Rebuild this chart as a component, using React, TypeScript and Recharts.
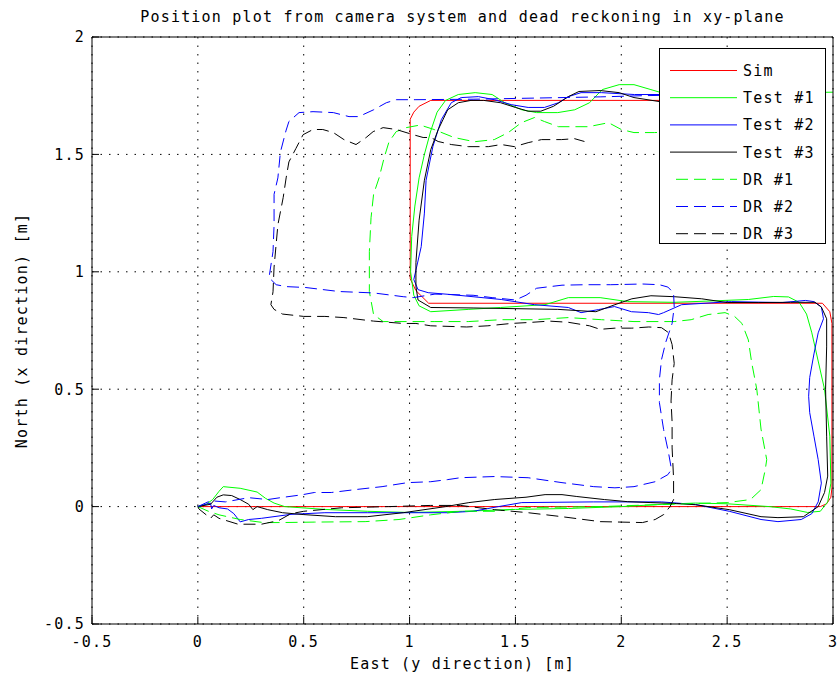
import React from 'react';
import { LineChart, Line, XAxis, YAxis, CartesianGrid, Legend } from 'recharts';

type P = [number, number];

const titleText = 'Position plot from camera system and dead reckoning in xy-plane';
const xLabel = 'East (y direction) [m]';
const yLabel = 'North (x direction) [m]';
const xTicks = [-0.5, 0, 0.5, 1, 1.5, 2, 2.5, 3];
const yTicks = [-0.5, 0, 0.5, 1, 1.5, 2];

const simPath: P[] = [
  [0, 0], [2.94, 0], [2.97, 0.012], [2.99, 0.04], [2.995, 0.08], [2.995, 0.78], [2.985, 0.83],
  [2.95, 0.866], [1.09, 0.866], [1.03, 0.92], [1.003, 0.97], [1.003, 1.65], [1.02, 1.68],
  [1.045, 1.705], [1.1, 1.73], [2.4, 1.73],
];

const test1Path: P[] = [
  [0, 0], [0.04, 0.01], [0.07, 0.03], [0.1, 0.065], [0.12, 0.085], [0.2, 0.078], [0.28, 0.062],
  [0.32, 0.035], [0.36, 0.015], [0.41, 0], [0.6, -0.012], [0.8, -0.02], [1.0, -0.025], [1.25, -0.02],
  [1.5, -0.012], [1.75, -0.008], [2.0, 0.0], [2.2, 0.01], [2.35, 0.015], [2.5, 0.012], [2.7, 0.0],
  [2.8, -0.01], [2.88, -0.025], [2.94, -0.02], [2.975, 0.02], [2.99, 0.1], [2.985, 0.3], [2.96, 0.5],
  [2.93, 0.62], [2.9, 0.74], [2.875, 0.82], [2.84, 0.87], [2.79, 0.893], [2.72, 0.895], [2.6, 0.882],
  [2.4, 0.875], [2.25, 0.87], [2.03, 0.873], [1.9, 0.89], [1.75, 0.89], [1.64, 0.86], [1.43, 0.848],
  [1.28, 0.84], [1.1, 0.83], [1.045, 0.855], [1.02, 0.9], [1.005, 1.0], [1.01, 1.15], [1.025, 1.28],
  [1.045, 1.4], [1.07, 1.5], [1.1, 1.6], [1.13, 1.68], [1.17, 1.73], [1.23, 1.755], [1.31, 1.763],
  [1.39, 1.755], [1.45, 1.72], [1.53, 1.69], [1.6, 1.678], [1.7, 1.678], [1.78, 1.69], [1.85, 1.72],
  [1.91, 1.776], [1.99, 1.797], [2.06, 1.797], [2.14, 1.776], [2.2, 1.76], [2.6, 1.76], [3.0, 1.765],
];

const test2Path: P[] = [
  [0, 0], [0.06, 0.015], [0.065, -0.01], [0.075, 0.005], [0.1, -0.005], [0.14, -0.01], [0.17, -0.03],
  [0.2, -0.065], [0.24, -0.055], [0.3, -0.05], [0.44, -0.033], [0.6, -0.026], [0.8, -0.026],
  [1.0, -0.026], [1.18, -0.026], [1.3, -0.02], [1.42, 0.0], [1.53, 0.017], [1.87, 0.02], [2.19, 0.02],
  [2.35, 0.009], [2.51, -0.02], [2.66, -0.055], [2.74, -0.064], [2.85, -0.055], [2.9, -0.03],
  [2.93, 0.02], [2.945, 0.1], [2.93, 0.2], [2.91, 0.3], [2.89, 0.4], [2.885, 0.47], [2.89, 0.55],
  [2.91, 0.65], [2.93, 0.74], [2.955, 0.8], [2.945, 0.85], [2.91, 0.873], [2.87, 0.878], [2.76, 0.869],
  [2.52, 0.873], [2.285, 0.86], [2.2, 0.826], [2.176, 0.818], [2.128, 0.826], [2.048, 0.83],
  [1.968, 0.852], [1.892, 0.839], [1.81, 0.826], [1.75, 0.848], [1.59, 0.86], [1.433, 0.882],
  [1.197, 0.903], [1.088, 0.911], [1.04, 0.924], [1.02, 0.967], [1.055, 1.107], [1.07, 1.25],
  [1.078, 1.39], [1.11, 1.533], [1.15, 1.648], [1.197, 1.72], [1.244, 1.742], [1.325, 1.746],
  [1.4, 1.733], [1.48, 1.712], [1.56, 1.7], [1.637, 1.7], [1.703, 1.72], [1.75, 1.746], [1.81, 1.763],
  [1.906, 1.763], [2.062, 1.755], [2.19, 1.755], [2.6, 1.76],
];

const test3Path: P[] = [
  [0, 0], [0.06, 0.01], [0.09, 0.04], [0.12, 0.05], [0.16, 0.047], [0.2, 0.03], [0.24, 0.01],
  [0.26, -0.013], [0.28, 0.0], [0.33, -0.013], [0.4, -0.026], [0.5, -0.034], [0.65, -0.043],
  [0.8, -0.043], [0.97, -0.026], [1.17, 0.0], [1.28, 0.017], [1.4, 0.03], [1.55, 0.04], [1.64, 0.051],
  [1.72, 0.051], [1.79, 0.043], [1.92, 0.03], [2.03, 0.021], [2.14, 0.017], [2.26, 0.013],
  [2.35, 0.008], [2.51, -0.013], [2.66, -0.043], [2.74, -0.047], [2.86, -0.043], [2.93, 0.0],
  [2.96, 0.06], [2.975, 0.13], [2.97, 0.3], [2.965, 0.5], [2.97, 0.68], [2.97, 0.8], [2.945, 0.85],
  [2.915, 0.87], [2.8, 0.87], [2.65, 0.869], [2.5, 0.869], [2.38, 0.885], [2.25, 0.894], [2.14, 0.898],
  [2.05, 0.885], [1.97, 0.86], [1.88, 0.83], [1.7, 0.84], [1.3, 0.846], [1.1, 0.848], [1.04, 0.88],
  [1.03, 0.937], [1.03, 1.04], [1.045, 1.22], [1.07, 1.39], [1.1, 1.52], [1.135, 1.605], [1.18, 1.69],
  [1.23, 1.72], [1.29, 1.73], [1.35, 1.73], [1.43, 1.72], [1.5, 1.7], [1.56, 1.684], [1.62, 1.684],
  [1.68, 1.705], [1.75, 1.746], [1.8, 1.768], [1.9, 1.772], [1.99, 1.763], [2.06, 1.742],
  [2.18, 1.725], [2.4, 1.73],
];

const dr1Path: P[] = [
  [0, 0], [0.05, -0.02], [0.1, -0.035], [0.2, -0.055], [0.31, -0.068], [0.39, -0.068], [0.55, -0.066],
  [0.79, -0.064], [0.95, -0.055], [1.1, -0.035], [1.244, -0.02], [1.4, -0.02], [1.56, -0.004],
  [1.9, 0.0], [2.19, 0.009], [2.5, 0.017], [2.61, 0.03], [2.66, 0.072], [2.68, 0.158], [2.687, 0.2],
  [2.66, 0.33], [2.64, 0.5], [2.616, 0.613], [2.6, 0.71], [2.57, 0.78], [2.535, 0.81], [2.49, 0.826],
  [2.41, 0.818], [2.33, 0.796], [2.25, 0.788], [2.06, 0.788], [1.906, 0.796], [1.75, 0.805],
  [1.59, 0.796], [1.433, 0.796], [1.277, 0.788], [1.116, 0.788], [0.875, 0.788], [0.83, 0.818],
  [0.81, 0.916], [0.81, 1.086], [0.818, 1.23], [0.83, 1.33], [0.856, 1.4], [0.88, 1.486],
  [0.903, 1.554], [0.937, 1.597], [0.984, 1.614], [1.05, 1.625], [1.116, 1.606], [1.21, 1.572],
  [1.306, 1.554], [1.4, 1.563], [1.466, 1.593], [1.528, 1.635], [1.59, 1.657], [1.637, 1.64],
  [1.703, 1.618], [1.779, 1.618], [1.845, 1.618], [1.94, 1.635], [2.0, 1.606], [2.06, 1.593],
  [2.157, 1.593], [2.4, 1.6],
];

const dr2Path: P[] = [
  [0, 0], [0.06, 0.025], [0.13, 0.02], [0.24, 0.038], [0.33, 0.03], [0.39, 0.038], [0.49, 0.05],
  [0.55, 0.06], [0.63, 0.06], [0.74, 0.072], [0.87, 0.085], [0.99, 0.102], [1.1, 0.106], [1.18, 0.115],
  [1.24, 0.123], [1.4, 0.128], [1.56, 0.123], [1.72, 0.102], [1.87, 0.085], [1.97, 0.08], [2.06, 0.085],
  [2.16, 0.106], [2.22, 0.136], [2.237, 0.158], [2.223, 0.23], [2.2, 0.328], [2.18, 0.443],
  [2.18, 0.54], [2.19, 0.626], [2.21, 0.7], [2.24, 0.78], [2.25, 0.85], [2.247, 0.91], [2.22, 0.935],
  [2.18, 0.945], [2.1, 0.948], [1.95, 0.945], [1.83, 0.945], [1.72, 0.943], [1.6, 0.93], [1.55, 0.9],
  [1.5, 0.88], [1.39, 0.89], [1.3, 0.9], [1.12, 0.905], [1.017, 0.89], [0.97, 0.894], [0.83, 0.91],
  [0.667, 0.916], [0.51, 0.933], [0.416, 0.937], [0.37, 0.945], [0.336, 0.975], [0.355, 1.086],
  [0.36, 1.2], [0.36, 1.33], [0.378, 1.4], [0.39, 1.51], [0.416, 1.6], [0.43, 1.64], [0.478, 1.678],
  [0.544, 1.682], [0.64, 1.678], [0.714, 1.661], [0.76, 1.661], [0.83, 1.69], [0.89, 1.72],
  [0.937, 1.733], [1.03, 1.733], [1.3, 1.735], [1.6, 1.74], [1.9, 1.745], [2.1, 1.75], [2.4, 1.755],
];

const dr3Path: P[] = [
  [0, 0], [0.005, -0.01], [0.06, -0.05], [0.075, -0.035], [0.1, -0.05], [0.19, -0.075], [0.3, -0.075],
  [0.38, -0.06], [0.44, -0.03], [0.5, -0.02], [0.68, -0.005], [0.9, 0.0], [1.1, 0.005], [1.24, 0.005],
  [1.4, -0.013], [1.56, -0.026], [1.72, -0.043], [1.9, -0.064], [2.1, -0.068], [2.16, -0.055],
  [2.2, -0.034], [2.23, 0.0], [2.247, 0.03], [2.247, 0.12], [2.24, 0.25], [2.24, 0.36], [2.235, 0.45],
  [2.24, 0.54], [2.25, 0.61], [2.24, 0.69], [2.223, 0.741], [2.19, 0.762], [2.13, 0.765], [2.05, 0.76],
  [1.97, 0.76], [1.9, 0.755], [1.85, 0.77], [1.75, 0.785], [1.66, 0.79], [1.58, 0.785], [1.48, 0.78],
  [1.37, 0.77], [1.27, 0.765], [1.1, 0.77], [1.03, 0.78], [0.97, 0.78], [0.83, 0.79], [0.69, 0.805],
  [0.6, 0.81], [0.5, 0.81], [0.4, 0.82], [0.36, 0.84], [0.345, 0.86], [0.355, 0.915], [0.36, 1.02],
  [0.37, 1.12], [0.378, 1.2], [0.403, 1.316], [0.417, 1.4], [0.43, 1.468], [0.463, 1.525],
  [0.497, 1.584], [0.544, 1.606], [0.59, 1.606], [0.64, 1.593], [0.69, 1.563], [0.747, 1.542],
  [0.795, 1.572], [0.828, 1.597], [0.875, 1.614], [0.937, 1.606], [1.017, 1.584], [1.064, 1.572],
  [1.1, 1.572], [1.135, 1.555], [1.197, 1.542], [1.277, 1.533], [1.372, 1.533], [1.433, 1.542],
  [1.495, 1.533], [1.56, 1.55], [1.623, 1.563], [1.717, 1.563], [1.779, 1.567], [1.826, 1.555],
];

const seriesNames = ['Sim', 'Test #1', 'Test #2', 'Test #3', 'DR #1', 'DR #2', 'DR #3'];
const seriesColors = ['#ff0000', '#00ff00', '#0000ff', '#000000', '#00ff00', '#0000ff', '#000000'];
const seriesDashed = [false, false, false, false, true, true, true];
const seriesPaths = [simPath, test1Path, test2Path, test3Path, dr1Path, dr2Path, dr3Path];

const FONT = '"DejaVu Sans Mono", monospace';
const FS = 15;
const DASH = '12 6';

const fmt = (v: number) => String(v);
const toRows = (p: P[]) => p.map(([x, y]) => ({ x, y }));

const renderLegend = () => (
  <svg width={167} height={196} style={{ display: 'block' }}>
    <rect x={0.5} y={0.5} width={166} height={195} fill="#fff" stroke="#000" strokeWidth={1} />
    {seriesNames.map((name, i) => {
      const cy = 22.5 + i * 27.2;
      return (
        <g key={name}>
          <line
            x1={11}
            x2={78}
            y1={cy}
            y2={cy}
            stroke={seriesColors[i]}
            strokeWidth={1}
            strokeDasharray={seriesDashed[i] ? DASH : undefined}
            strokeDashoffset={seriesDashed[i] ? -6 : undefined}
          />
          <text x={84} y={cy + 5.5} fontSize={FS} fontFamily={FONT} fill="#000">
            {name}
          </text>
        </g>
      );
    })}
  </svg>
);

export default function App() {
  return (
    <div style={{ position: 'absolute', left: 0, top: 0, width: 839, height: 682, background: '#fff' }}>
      <style>{'.recharts-wrapper text{letter-spacing:1.2px;font-family:"DejaVu Sans Mono",monospace;}'}</style>
      <LineChart width={839} height={682} margin={{ top: 36, right: 5, bottom: 0, left: 0 }}>
        <CartesianGrid stroke="#000" strokeDasharray="1.5 7" strokeWidth={1} />
        <XAxis
          type="number"
          dataKey="x"
          domain={[-0.5, 3]}
          ticks={xTicks}
          interval={0}
          allowDataOverflow
          tickFormatter={fmt}
          tickSize={-7}
          tickMargin={19}
          height={58}
          axisLine={{ stroke: '#000', strokeWidth: 1 }}
          tickLine={{ stroke: '#000', strokeWidth: 1 }}
          tick={{ fill: '#000', fontSize: FS, fontFamily: FONT }}
          label={{ value: xLabel, position: 'insideBottom', offset: 13, fill: '#000', fontSize: FS, fontFamily: FONT }}
        />
        <XAxis
          xAxisId="top"
          orientation="top"
          type="number"
          dataKey="x"
          domain={[-0.5, 3]}
          ticks={xTicks}
          interval={0}
          allowDataOverflow
          tick={false}
          tickSize={-7}
          height={1}
          axisLine={{ stroke: '#000', strokeWidth: 1 }}
          tickLine={{ stroke: '#000', strokeWidth: 1 }}
          label={{ value: titleText, position: 'top', offset: 14, fill: '#000', fontSize: FS, fontFamily: FONT }}
        />
        <YAxis
          type="number"
          domain={[-0.5, 2]}
          ticks={yTicks}
          interval={0}
          allowDataOverflow
          tickFormatter={fmt}
          tickSize={-7}
          tickMargin={14}
          width={92}
          axisLine={{ stroke: '#000', strokeWidth: 1 }}
          tickLine={{ stroke: '#000', strokeWidth: 1 }}
          tick={{ fill: '#000', fontSize: FS, fontFamily: FONT }}
          label={{
            value: yLabel,
            angle: -90,
            position: 'insideLeft',
            offset: 22,
            fill: '#000',
            fontSize: FS,
            fontFamily: FONT,
            style: { textAnchor: 'middle' },
          }}
        />
        <YAxis
          yAxisId="right"
          orientation="right"
          type="number"
          domain={[-0.5, 2]}
          ticks={yTicks}
          interval={0}
          allowDataOverflow
          tick={false}
          tickSize={-7}
          width={1}
          axisLine={{ stroke: '#000', strokeWidth: 1 }}
          tickLine={{ stroke: '#000', strokeWidth: 1 }}
        />
        {seriesNames.map((name, i) => (
          <Line
            key={name}
            name={name}
            data={toRows(seriesPaths[i])}
            dataKey="y"
            type="linear"
            stroke={seriesColors[i]}
            strokeWidth={1}
            strokeDasharray={seriesDashed[i] ? DASH : undefined}
            dot={false}
            activeDot={false}
            isAnimationActive={false}
          />
        ))}
        <Legend
          layout="vertical"
          align="center"
          verticalAlign="middle"
          content={renderLegend}
          wrapperStyle={{ left: 659, top: 48, width: 167, height: 196 }}
        />
      </LineChart>
    </div>
  );
}
